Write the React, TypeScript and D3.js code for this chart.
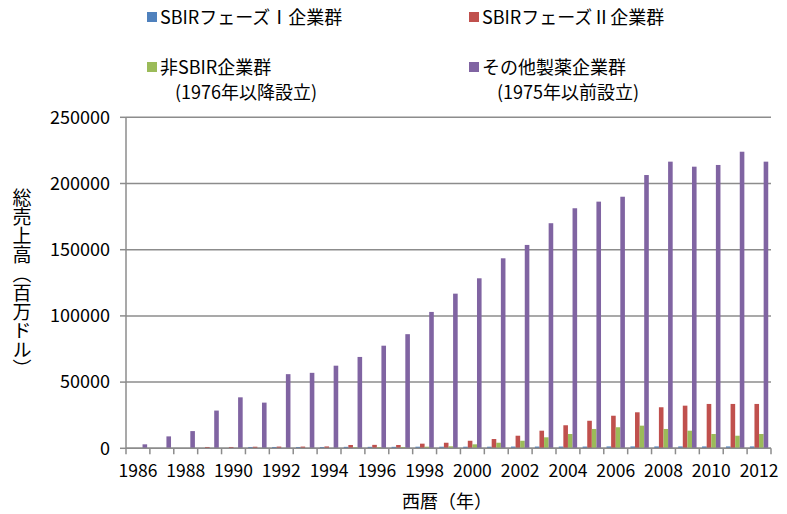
import React from "react";
import * as d3 from "d3";

const years = [
  "1986", "1987", "1988", "1989", "1990", "1991", "1992", "1993", "1994",
  "1995", "1996", "1997", "1998", "1999", "2000", "2001", "2002", "2003",
  "2004", "2005", "2006", "2007", "2008", "2009", "2010", "2011", "2012",
];

const seriesNames = [
  "SBIRフェーズⅠ企業群",
  "SBIRフェーズⅡ企業群",
  "非SBIR企業群",
  "その他製薬企業群",
];

const phase1 = [
  0, 0, 0, 0, 0, 1000, 1000, 1000, 1000, 1100, 1100, 1100, 1200, 1200,
  1200, 1200, 1300, 1300, 1300, 1300, 1400, 1400, 1400, 1400, 1400, 1400, 1400,
];
const phase2 = [
  0, 0, 0, 1000, 1000, 1200, 1300, 1300, 1400, 2500, 2600, 2500, 3500, 4200,
  5700, 7000, 9500, 13300, 17400, 20800, 24600, 27200, 31000, 32200, 33500, 33500, 33500,
];
const nonSbir = [
  0, 0, 0, 0, 0, 0, 0, 0, 0, 800, 900, 1000, 1200, 1500,
  3000, 4200, 5700, 8300, 10800, 14600, 15900, 17100, 14600, 13300, 10800, 9500, 10800,
];
const others = [
  3000, 9000, 13000, 28500, 38500, 34500, 56000, 57000, 62400, 69000, 77500, 86200,
  103000, 116800, 128400, 143500, 153600, 170000, 181300, 186300, 190000, 206400,
  216500, 212700, 214000, 224000, 216500,
];

const yTicks = [0, 50000, 100000, 150000, 200000, 250000];
const xLabels = years.filter((_, i) => i % 2 === 0);

const colors = ["#4F81BD", "#C0504D", "#9BBB59", "#8064A2"];

const W = 787;
const H = 514;
const FONT = "'Noto Sans CJK JP', 'Noto Sans', sans-serif";

const App = () => {
  const values = [phase1, phase2, nonSbir, others];

  const x0 = d3.scaleBand().domain(years).range([126, 771]).padding(0);
  const bw = x0.bandwidth();
  const gap = (bw * 0.3) / 1.3 / 2;
  const x1 = d3
    .scaleBand()
    .domain(seriesNames)
    .range([gap, bw - gap])
    .padding(0);
  const y = d3.scaleLinear().domain([0, 250000]).range([448.3, 117.3]);

  const left = x0.range()[0];
  const right = x0.range()[1];
  const gridColor = "#8c8c8c";

  const legend = [
    { i: 0, x: 147, y: 12, lines: [seriesNames[0]] },
    { i: 1, x: 469, y: 12, lines: [seriesNames[1]] },
    { i: 2, x: 147, y: 62, lines: [seriesNames[2], "(1976年以降設立)"] },
    { i: 3, x: 469, y: 62, lines: [seriesNames[3], "(1975年以前設立)"] },
  ];

  return (
    <div style={{ position: "absolute", left: 0, top: 0 }}>
      <svg width={W} height={H} style={{ display: "block", background: "#fff" }} fontFamily={FONT}>
        {/* gridlines */}
        {yTicks.map(t => (
          <line key={t} x1={left} x2={right} y1={y(t)} y2={y(t)} stroke={gridColor} strokeWidth={1.5} />
        ))}

        {/* bars */}
        {years.map((yr, j) => (
          <g key={yr} transform={`translate(${x0(yr)},0)`}>
            {seriesNames.map((s, i) => {
              const v = values[i][j];
              if (!v) return null;
              return (
                <rect
                  key={s}
                  x={x1(s)}
                  y={y(v)}
                  width={x1.bandwidth()}
                  height={y(0) - y(v)}
                  fill={colors[i]}
                />
              );
            })}
          </g>
        ))}

        {/* y axis */}
        <line x1={left} x2={left} y1={y(250000)} y2={y(0)} stroke={gridColor} strokeWidth={1.5} />
        {yTicks.map(t => (
          <g key={t}>
            <line x1={left - 6} x2={left} y1={y(t)} y2={y(t)} stroke={gridColor} strokeWidth={1.5} />
            <text x={110} y={y(t)} dy="0.35em" textAnchor="end" fontSize={18} fill="#000">
              {t}
            </text>
          </g>
        ))}

        {/* x axis */}
        <line x1={left} x2={right} y1={y(0)} y2={y(0)} stroke={gridColor} strokeWidth={1.5} />
        {years.concat(["end"]).map((yr, j) => {
          const xx = left + j * bw;
          return <line key={yr} x1={xx} x2={xx} y1={y(0)} y2={y(0) + 6} stroke={gridColor} strokeWidth={1.5} />;
        })}
        {xLabels.map(yr => (
          <text key={yr} x={(x0(yr) as number) + bw / 2} y={477} textAnchor="middle" fontSize={17.5} fill="#000">
            {yr}
          </text>
        ))}

        {/* axis titles */}
        <text x={447} y={508} textAnchor="middle" fontSize={18} fill="#000">
          西暦（年）
        </text>
        <text
          x={22}
          y={188}
          fontSize={19}
          fill="#000"
          style={{ writingMode: "vertical-rl" }}
        >
          総売上高（百万ドル）
        </text>

        {/* legend */}
        {legend.map(l => (
          <g key={l.i}>
            <rect x={l.x} y={l.y} width={10} height={10} fill={colors[l.i]} />
            {l.lines.map((t, k) => (
              <text
                key={k}
                x={k === 0 ? l.x + 13 : l.x + 28}
                y={l.y + 12 + k * 25}
                fontSize={18}
                fill="#000"
              >
                {t}
              </text>
            ))}
          </g>
        ))}
      </svg>
    </div>
  );
};

export default App;
